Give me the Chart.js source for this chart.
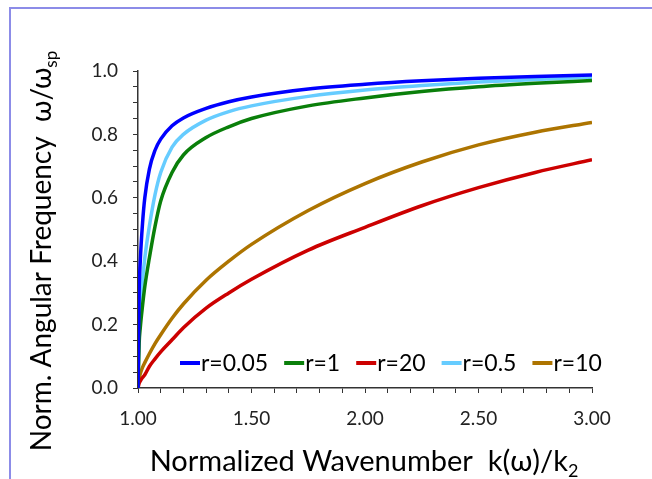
<!DOCTYPE html>
<html>
<head>
<meta charset="utf-8">
<script src="https://cdn.jsdelivr.net/npm/chart.js@4.4.1/dist/chart.umd.min.js"></script>
<style>
  body { margin: 0; background: #fff; }
  #wrap { position: relative; width: 652px; height: 479px; }
  #marco { position: absolute; left: 9px; top: 7px; right: 0; bottom: 0;
           border-top: 2px solid #8c8ce8; border-left: 2px solid #8c8ce8; pointer-events: none; }
</style>
</head>
<body>
<div id="wrap">
  <canvas id="grafico" width="652" height="479"></canvas>
  <div id="marco"></div>
</div>
<script>
// k(w)/k2 en el eje x, w/wsp en el eje y
const k_norm = [1.00, 1.005, 1.01, 1.02, 1.03, 1.05, 1.075, 1.10, 1.15, 1.20, 1.30, 1.40, 1.50, 1.75, 2.00, 2.25, 2.50, 2.75, 3.00];

const w_r005 = [0, 0.30, 0.40, 0.52, 0.60, 0.69, 0.75, 0.785, 0.827, 0.852, 0.882, 0.903, 0.918, 0.943, 0.958, 0.969, 0.977, 0.983, 0.987];
const w_r1   = [0, 0.14, 0.19, 0.26, 0.32, 0.41, 0.51, 0.59, 0.68, 0.735, 0.79, 0.824, 0.85, 0.89, 0.915, 0.935, 0.950, 0.961, 0.970];
const w_r20  = [0, 0.015, 0.022, 0.033, 0.042, 0.068, 0.092, 0.114, 0.152, 0.19, 0.252, 0.30, 0.343, 0.435, 0.507, 0.575, 0.632, 0.68, 0.72];
const w_r05  = [0, 0.17, 0.24, 0.34, 0.41, 0.51, 0.61, 0.68, 0.76, 0.80, 0.845, 0.872, 0.89, 0.92, 0.94, 0.954, 0.965, 0.973, 0.980];
const w_r10  = [0, 0.03, 0.045, 0.065, 0.08, 0.108, 0.14, 0.168, 0.22, 0.265, 0.34, 0.40, 0.453, 0.56, 0.645, 0.713, 0.767, 0.807, 0.838];

const etiquetas = ['r=0.05', 'r=1', 'r=20', 'r=0.5', 'r=10'];
const series = [w_r005, w_r1, w_r20, w_r05, w_r10];
const colores = ['#0000ff', '#0a7f0a', '#cc0000', '#66ccff', '#ad7400'];

const ticksX = [1.0, 1.5, 2.0, 2.5, 3.0];
const ticksY = [0.0, 0.2, 0.4, 0.6, 0.8, 1.0];

const FUENTE = 'Lato, "Open Sans", sans-serif';

function puntos(valores) {
    return k_norm.map((k, i) => ({ x: k, y: valores[i] }));
}

function esTick(lista, v) {
    return lista.some(t => Math.abs(t - v) < 1e-6);
}

// texto centrado con un trozo en subindice
function escribir(ctx, partes, x, y, size) {
    const fNormal = size + 'px ' + FUENTE;
    const fSub = Math.round(size * 0.62) + 'px ' + FUENTE;
    let total = 0;
    partes.forEach(p => { ctx.font = p[1] ? fSub : fNormal; total += ctx.measureText(p[0]).width; });
    let cx = x - total / 2;
    ctx.fillStyle = '#000';
    ctx.textAlign = 'left';
    ctx.textBaseline = 'alphabetic';
    partes.forEach(p => {
        ctx.font = p[1] ? fSub : fNormal;
        ctx.fillText(p[0], cx, p[1] ? y + size * 0.22 : y);
        cx += ctx.measureText(p[0]).width;
    });
}

const rotulos = {
    id: 'rotulos',
    afterDraw(chart) {
        const ctx = chart.ctx;
        ctx.save();
        escribir(ctx, [['Normalized Wavenumber  k(\u03c9)/k', false], ['2', true]], 364, 471, 29);
        ctx.translate(51, 251);
        ctx.rotate(-Math.PI / 2);
        escribir(ctx, [['Norm. Angular Frequency  \u03c9/\u03c9', false], ['sp', true]], 0, 0, 28);
        ctx.restore();
    }
};

// leyenda dentro del area del grafico, en una sola fila
const leyenda = {
    id: 'leyenda',
    afterDatasetsDraw(chart) {
        const ctx = chart.ctx;
        const area = chart.chartArea;
        let x = area.left + 42;
        const y = area.bottom - 25;
        ctx.save();
        ctx.font = '23px ' + FUENTE;
        ctx.textBaseline = 'middle';
        ctx.textAlign = 'left';
        chart.data.datasets.forEach(ds => {
            ctx.strokeStyle = ds.borderColor;
            ctx.lineWidth = 4;
            ctx.beginPath();
            ctx.moveTo(x, y);
            ctx.lineTo(x + 20, y);
            ctx.stroke();
            ctx.fillStyle = '#000';
            ctx.fillText(ds.label, x + 21, y + 1);
            x += 21 + ctx.measureText(ds.label).width + 16;
        });
        ctx.restore();
    }
};

new Chart(document.getElementById('grafico'), {
    type: 'line',
    data: {
        datasets: series.map((s, i) => ({
            label: etiquetas[i],
            data: puntos(s),
            borderColor: colores[i],
            backgroundColor: colores[i],
            borderWidth: 3.5,
            pointRadius: 0,
            cubicInterpolationMode: 'monotone',
            fill: false
        }))
    },
    options: {
        responsive: false,
        animation: false,
        layout: { padding: { left: 0, top: 71, right: 60, bottom: 0 } },
        plugins: { legend: { display: false }, tooltip: { enabled: false } },
        scales: {
            x: {
                type: 'linear',
                min: 1, max: 3,
                afterFit: s => { s.height = 91; },
                grid: { drawOnChartArea: false, tickLength: 5, color: '#333', tickColor: '#333' },
                border: { color: '#333', width: 1.5 },
                ticks: {
                    stepSize: 0.1, autoSkip: false, maxRotation: 0, padding: 14,
                    color: '#222', font: { family: FUENTE, size: 19 },
                    callback: v => esTick(ticksX, v) ? v.toFixed(2) : ''
                }
            },
            y: {
                min: 0, max: 1,
                afterFit: s => { s.width = 138; },
                grid: { drawOnChartArea: false, tickLength: 5, color: '#333', tickColor: '#333' },
                border: { color: '#333', width: 1.5 },
                ticks: {
                    stepSize: 0.05, autoSkip: false, padding: 15,
                    color: '#222', font: { family: FUENTE, size: 19 },
                    callback: v => esTick(ticksY, v) ? v.toFixed(1) : ''
                }
            }
        }
    },
    plugins: [leyenda, rotulos]
});
</script>
</body>
</html>
